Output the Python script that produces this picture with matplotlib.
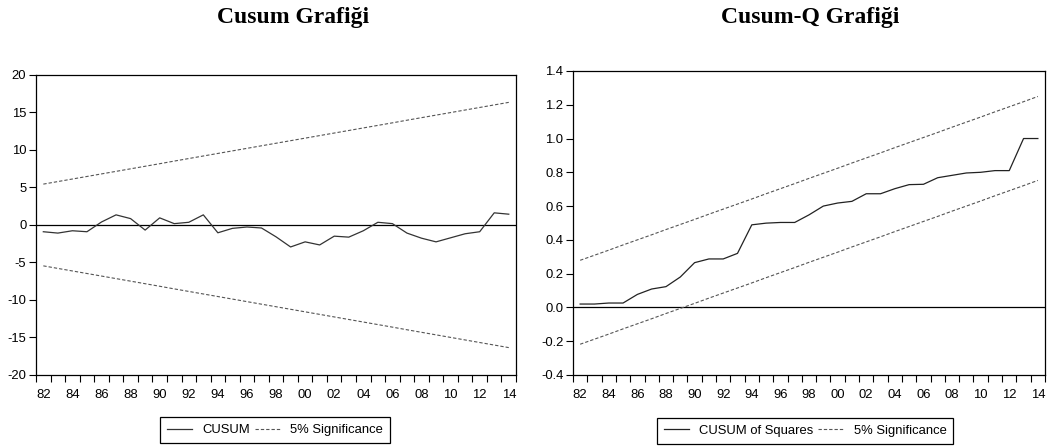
import matplotlib
matplotlib.use("Agg")
import matplotlib.pyplot as plt
import numpy as np

plt.rcParams['font.family'] = ['Liberation Sans Narrow', 'Liberation Sans', 'DejaVu Sans']
plt.rcParams['axes.unicode_minus'] = False

# yearly observations 1982-2014
years = list(range(1982, 2015))
year_labels = ["82", "84", "86", "88", "90", "92", "94", "96", "98", "00",
               "02", "04", "06", "08", "10", "12", "14"]

# recursive residual CUSUM and its 5% bands
cusum = [-0.9, -1.08, -0.77, -0.9, 0.4, 1.35, 0.85, -0.68, 0.95, 0.18, 0.36,
         1.35, -1.04, -0.45, -0.27, -0.4, -1.58, -2.93, -2.25, -2.66, -1.49,
         -1.62, -0.77, 0.36, 0.18, -1.08, -1.76, -2.25, -1.71, -1.17, -0.9,
         1.62, 1.44]
cusum_upper = [5.45, 5.79, 6.13, 6.47, 6.81, 7.15, 7.49, 7.83, 8.17, 8.52,
               8.86, 9.20, 9.54, 9.88, 10.22, 10.56, 10.90, 11.24, 11.58,
               11.92, 12.26, 12.60, 12.94, 13.28, 13.62, 13.97, 14.31, 14.65,
               14.99, 15.33, 15.67, 16.01, 16.35]
cusum_lower = [-5.45, -5.79, -6.13, -6.47, -6.81, -7.15, -7.49, -7.83, -8.17,
               -8.52, -8.86, -9.20, -9.54, -9.88, -10.22, -10.56, -10.90,
               -11.24, -11.58, -11.92, -12.26, -12.60, -12.94, -13.28, -13.62,
               -13.97, -14.31, -14.65, -14.99, -15.33, -15.67, -16.01, -16.35]

# CUSUM of squares and its 5% bands
cusumsq = [0.02, 0.02, 0.026, 0.026, 0.077, 0.109, 0.123, 0.18, 0.265, 0.287,
           0.287, 0.32, 0.489, 0.499, 0.503, 0.503, 0.548, 0.60, 0.618, 0.628,
           0.673, 0.673, 0.703, 0.727, 0.729, 0.768, 0.782, 0.796, 0.80, 0.81,
           0.81, 1.0, 1.0]
cusumsq_upper = [0.279, 0.309, 0.339, 0.370, 0.400, 0.430, 0.461, 0.491, 0.521,
                 0.552, 0.582, 0.612, 0.642, 0.673, 0.703, 0.733, 0.764, 0.794,
                 0.824, 0.855, 0.885, 0.915, 0.946, 0.976, 1.006, 1.036, 1.067,
                 1.097, 1.127, 1.158, 1.188, 1.218, 1.249]
cusumsq_lower = [-0.218, -0.188, -0.158, -0.127, -0.097, -0.067, -0.036,
                 -0.006, 0.024, 0.055, 0.085, 0.115, 0.145, 0.176, 0.206,
                 0.236, 0.267, 0.297, 0.327, 0.358, 0.388, 0.418, 0.449, 0.479,
                 0.509, 0.539, 0.570, 0.600, 0.630, 0.661, 0.691, 0.721, 0.752]

TICK_SIZE = 9.4
DASH = (3, 1.8)


def style_axes(ax, yticks, yfmt):
    ax.set_xlim(1981.5, 2014.5)
    ax.set_xticks(years[::2])
    ax.set_xticklabels(year_labels)
    ax.set_xticks(np.arange(1981.5, 2015.0, 1.0), minor=True)
    ax.tick_params(axis='x', which='major', length=0, pad=10, labelsize=TICK_SIZE)
    ax.tick_params(axis='x', which='minor', length=5, width=0.8, direction='out')
    ax.set_ylim(yticks[0], yticks[-1])
    ax.set_yticks(yticks)
    ax.set_yticklabels([yfmt.format(v) for v in yticks])
    ax.tick_params(axis='y', length=5, width=0.8, direction='out', pad=2,
                   labelsize=TICK_SIZE)
    for sp in ax.spines.values():
        sp.set_linewidth(0.9)
        sp.set_color('black')
    ax.axhline(0, color='black', lw=0.9, zorder=1)


fig = plt.figure(figsize=(10.51, 4.48), dpi=100)

# left panel: CUSUM
ax1 = fig.add_axes([0.0343, 0.163, 0.4567, 0.6696])
l1, = ax1.plot(years, cusum, color='#333333', lw=0.9, zorder=3)
b1, = ax1.plot(years, cusum_upper, color='#555555', lw=0.8, dashes=DASH)
ax1.plot(years, cusum_lower, color='#555555', lw=0.8, dashes=DASH)
style_axes(ax1, [-20, -15, -10, -5, 0, 5, 10, 15, 20], "{:d}")

# right panel: CUSUM of squares
ax2 = fig.add_axes([0.5452, 0.163, 0.4491, 0.6786])
l2, = ax2.plot(years, cusumsq, color='#222222', lw=0.9, zorder=3)
b2, = ax2.plot(years, cusumsq_upper, color='#555555', lw=0.8, dashes=DASH)
ax2.plot(years, cusumsq_lower, color='#555555', lw=0.8, dashes=DASH)
style_axes(ax2, [-0.4, -0.2, 0.0, 0.2, 0.4, 0.6, 0.8, 1.0, 1.2, 1.4], "{:.1f}")

fig.text(293 / 1051, 1 - 17 / 448, "Cusum Grafiği", ha='center', va='center',
         family='Liberation Serif', fontweight='bold', fontsize=17)
fig.text(810 / 1051, 1 - 17 / 448, "Cusum-Q Grafiği", ha='center', va='center',
         family='Liberation Serif', fontweight='bold', fontsize=17)

leg_kw = dict(loc='center', ncol=2, frameon=True, fancybox=False,
              edgecolor='black', fontsize=TICK_SIZE, handlelength=1.95,
              handletextpad=0.75, columnspacing=0.4, borderpad=0.5)
lg1 = fig.legend([l1, b1], ["CUSUM", "5% Significance"],
                 bbox_to_anchor=(275 / 1051, 1 - 430 / 448), **leg_kw)
lg2 = fig.legend([l2, b2], ["CUSUM of Squares", "5% Significance"],
                 bbox_to_anchor=(805 / 1051, 1 - 431 / 448), **leg_kw)
for lg in (lg1, lg2):
    lg.get_frame().set_linewidth(0.9)
    lg.get_frame().set_alpha(1)

fig.savefig("out.png", dpi=100)
